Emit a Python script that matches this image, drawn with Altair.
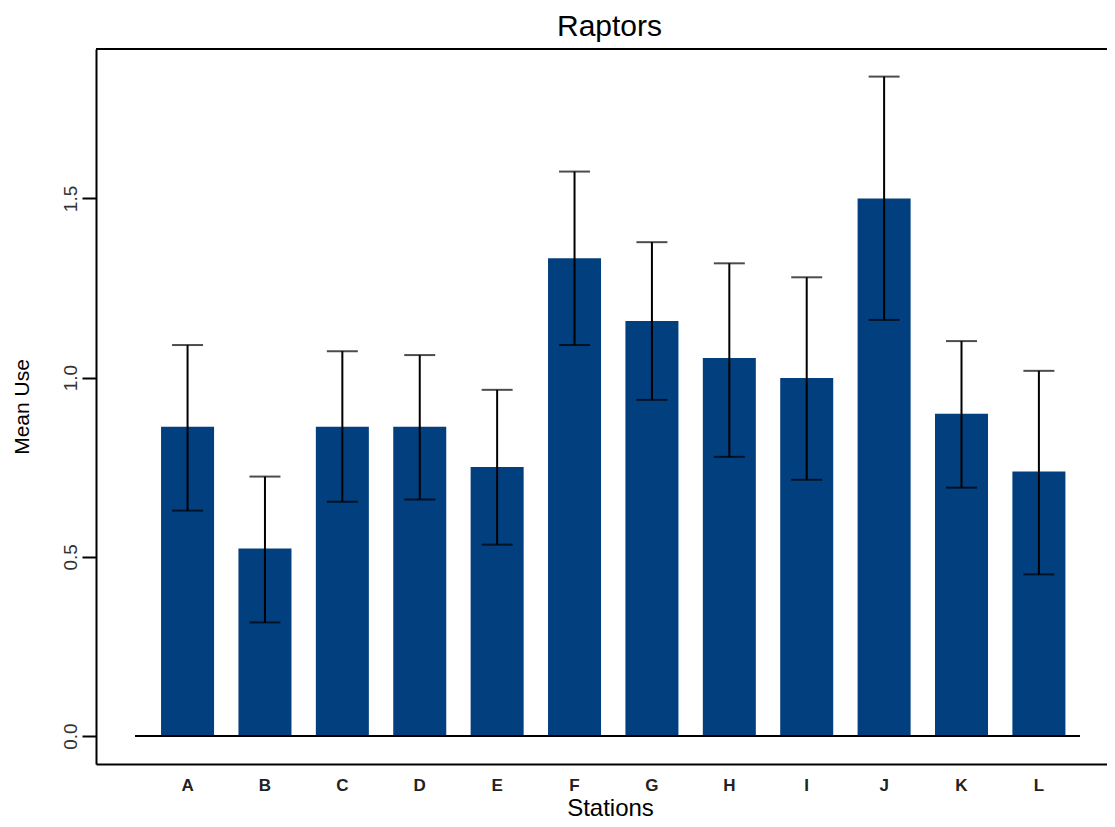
import altair as alt
import pandas as pd

stations = ["A", "B", "C", "D", "E", "F", "G", "H", "I", "J", "K", "L"]
means = [0.863, 0.523, 0.863, 0.863, 0.751, 1.333, 1.158, 1.055, 0.999, 1.500, 0.899, 0.738]
upper = [1.091, 0.724, 1.074, 1.063, 0.966, 1.575, 1.378, 1.319, 1.280, 1.840, 1.102, 1.019]
lower = [0.629, 0.317, 0.654, 0.660, 0.534, 1.091, 0.938, 0.779, 0.715, 1.161, 0.693, 0.451]

df = pd.DataFrame({"station": stations, "mean": means, "hi": upper, "lo": lower})

W, H = 1011, 715
FONT = "Liberation Sans"

xenc = alt.X(
    "station:N",
    sort=stations,
    title="Stations",
    scale=alt.Scale(paddingInner=0.315, paddingOuter=0.689, align=0.61),
    axis=alt.Axis(
        labelAngle=0, ticks=False, domain=True, domainColor="black", domainWidth=2,
        labelFont=FONT, labelFontSize=17, labelFontWeight="bold", labelColor="#222",
        labelPadding=13, titleFont=FONT, titleFontSize=24, titleFontWeight="normal",
        titleColor="black", titlePadding=3, titleX=514,
    ),
)
yscale = alt.Scale(domain=[-0.078, 1.917], nice=False, zero=False)
yaxis = alt.Axis(
    values=[0, 0.5, 1.0, 1.5], format=".1f", grid=False, labelAngle=270,
    labelAlign="center", labelBaseline="bottom", tickSize=14, tickColor="black",
    tickWidth=2, domainColor="black", domainWidth=2, labelFont=FONT,
    labelFontSize=19, labelColor="#333", labelPadding=2, titleFont=FONT,
    titleFontSize=21, titleFontWeight="normal", titleColor="black", titlePadding=29,
)

base = alt.Chart(df)

bars = base.mark_bar(color="#023f7e").encode(
    x=xenc,
    y=alt.Y("mean:Q", title="Mean Use", scale=yscale, axis=yaxis),
)

rules = base.mark_rule(color="black", strokeWidth=2).encode(
    x=alt.X("station:N", sort=stations),
    y=alt.Y("lo:Q", scale=yscale),
    y2="hi:Q",
)
caps_hi = base.mark_tick(color="black", size=31, thickness=2).encode(
    x=alt.X("station:N", sort=stations), y=alt.Y("hi:Q", scale=yscale)
)
caps_lo = base.mark_tick(color="black", size=31, thickness=2).encode(
    x=alt.X("station:N", sort=stations), y=alt.Y("lo:Q", scale=yscale)
)

baseline = alt.Chart(pd.DataFrame({"v": [0.0]})).mark_rule(color="black", strokeWidth=2).encode(
    y=alt.Y("v:Q", scale=yscale), x=alt.value(39), x2=alt.value(984)
)
topline = alt.Chart(pd.DataFrame({"v": [0.0]})).mark_rule(color="black", strokeWidth=2).encode(
    y=alt.value(0), x=alt.value(0), x2=alt.value(W)
)

chart = (
    alt.layer(bars, baseline, rules, caps_hi, caps_lo, topline)
    .properties(
        width=W, height=H,
        title=alt.TitleParams("Raptors", font=FONT, fontSize=30, fontWeight="normal",
                              color="black", anchor="middle", offset=6, dx=8),
        autosize=alt.AutoSizeParams(type="none"),
        padding={"left": 88, "top": 41, "right": 0, "bottom": 55},
    )
    .configure_view(stroke=None)
    .configure(background="white")
)

chart.save("out.html", embed_options={"renderer": "svg", "actions": False})
